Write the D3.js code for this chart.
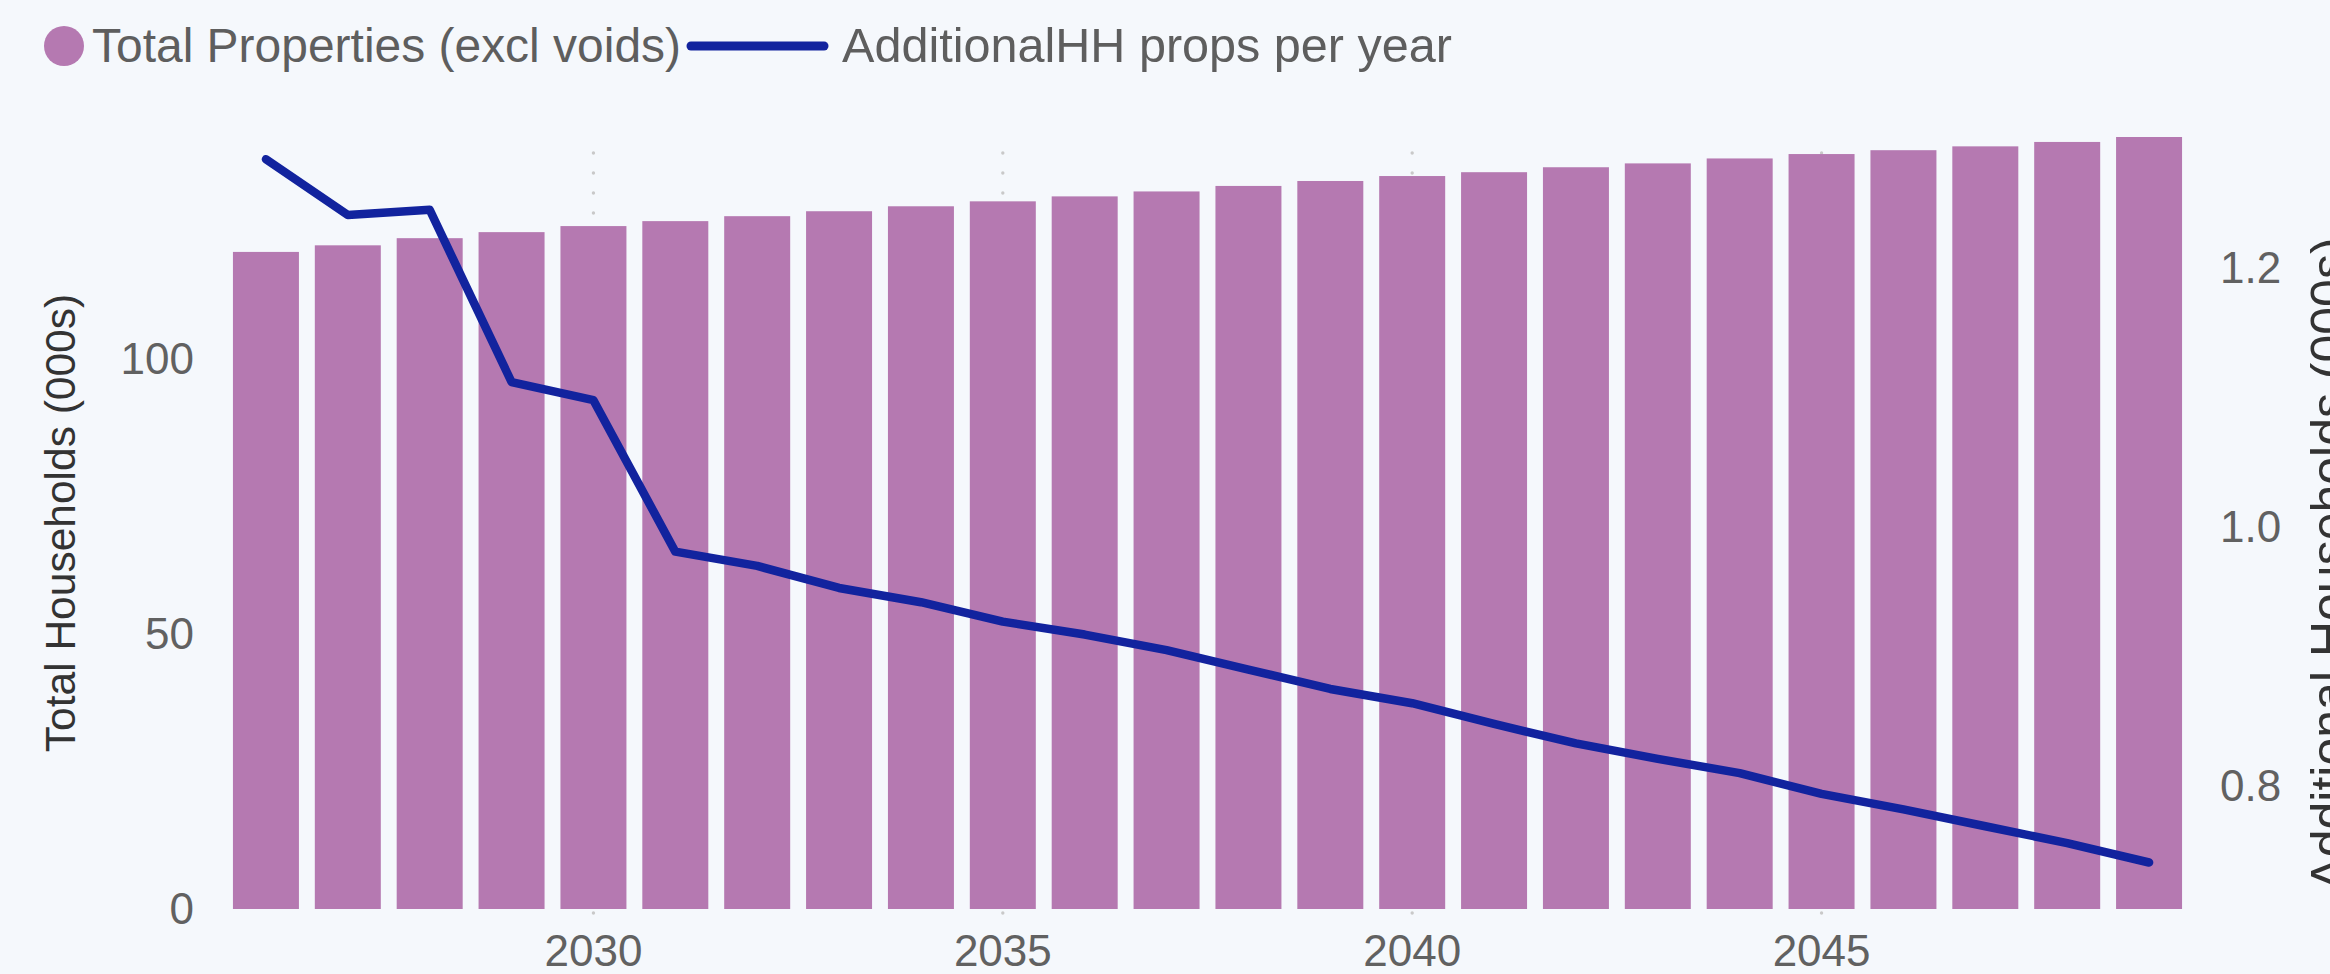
<!DOCTYPE html>
<html>
<head>
<meta charset="utf-8">
<script src="https://cdn.jsdelivr.net/npm/d3@7"></script>
<style>
  html, body { margin: 0; padding: 0; background: #f5f8fc; }
  svg { display: block; }
</style>
</head>
<body>
<svg id="chart" width="2330" height="974"></svg>
<script>
// ---- data ----
const years = [2026, 2027, 2028, 2029, 2030, 2031, 2032, 2033, 2034, 2035, 2036, 2037,
               2038, 2039, 2040, 2041, 2042, 2043, 2044, 2045, 2046, 2047, 2048, 2049];
const totalProperties = [119.5, 120.7, 122.0, 123.1, 124.2, 125.1, 126.0, 126.9, 127.8, 128.7, 129.6, 130.5,
                         131.5, 132.4, 133.3, 134.0, 134.9, 135.6, 136.5, 137.3, 138.0, 138.7, 139.5, 140.4];
const additionalHH = [1.284, 1.241, 1.245, 1.112, 1.098, 0.981, 0.970, 0.953, 0.942, 0.927, 0.917, 0.905,
                      0.890, 0.875, 0.864, 0.848, 0.833, 0.821, 0.810, 0.794, 0.782, 0.769, 0.756, 0.741];
const xTickValues = [2030, 2035, 2040, 2045];
const leftTickValues = [0, 50, 100];
const rightTickValues = [0.8, 1.0, 1.2];
const seriesNames = ["Total Properties (excl voids)", "AdditionalHH props per year"];
const axisTitles = ["Total Households (000s)", "Additional Households (000s)"];

// ---- layout ----
const plot = { left: 225, right: 2190, top: 137, bottom: 909 };
const barColor = "#b579b1";
const lineColor = "#12239e";
const tickColor = "#616161";
const titleColor = "#333333";
const legendColor = "#5e5e5e";
const font = "'Liberation Sans', Arial, sans-serif";

const svg = d3.select("#chart");

const x = d3.scaleBand().domain(years).range([plot.left, plot.right])
  .paddingInner(0.194).paddingOuter(0.097);
const yL = d3.scaleLinear().domain([0, 140.4]).range([plot.bottom, plot.top]);
const yR = d3.scaleLinear().domain([0.7051, 1.3012]).range([plot.bottom, plot.top]);
const cx = d => x(d) + x.bandwidth() / 2;

// gridlines (dotted, vertical, at x ticks)
svg.append("g").selectAll("line").data(xTickValues).join("line")
  .attr("x1", cx).attr("x2", cx)
  .attr("y1", plot.bottom + 4).attr("y2", plot.top)
  .attr("stroke", "#c9c9c9").attr("stroke-width", 3.4)
  .attr("stroke-linecap", "round").attr("stroke-dasharray", "0 20");

// bars
svg.append("g").selectAll("rect").data(years).join("rect")
  .attr("x", d => x(d))
  .attr("width", x.bandwidth())
  .attr("y", (d, i) => yL(totalProperties[i]))
  .attr("height", (d, i) => yL(0) - yL(totalProperties[i]))
  .attr("fill", barColor);

// line
const line = d3.line().x((d, i) => cx(years[i])).y(d => yR(d));
svg.append("path").datum(additionalHH)
  .attr("d", line)
  .attr("fill", "none").attr("stroke", lineColor).attr("stroke-width", 8.5)
  .attr("stroke-linejoin", "round").attr("stroke-linecap", "round");

// axes
function styleAxis(g) {
  g.select(".domain").remove();
  g.selectAll(".tick line").remove();
  g.selectAll("text").attr("font-family", font).attr("font-size", 44).attr("fill", tickColor);
}
svg.append("g").attr("transform", `translate(0,${plot.bottom})`)
  .call(d3.axisBottom(x).tickValues(xTickValues).tickSize(0).tickPadding(26))
  .call(styleAxis);
svg.append("g").attr("transform", `translate(${plot.left},0)`)
  .call(d3.axisLeft(yL).tickValues(leftTickValues).tickSize(0).tickPadding(31))
  .call(styleAxis);
svg.append("g").attr("transform", `translate(${plot.right},0)`)
  .call(d3.axisRight(yR).tickValues(rightTickValues).tickFormat(d3.format(".1f")).tickSize(0).tickPadding(30))
  .call(styleAxis);

// axis titles
const midY = (plot.top + plot.bottom) / 2;
svg.append("text")
  .attr("transform", `translate(75,${midY}) rotate(-90)`)
  .attr("text-anchor", "middle")
  .attr("font-family", font).attr("font-size", 42.5).attr("fill", titleColor)
  .text(axisTitles[0]);
svg.append("text")
  .attr("transform", `translate(2346,564) rotate(-90)`)
  .attr("text-anchor", "middle")
  .attr("font-family", font).attr("font-size", 50).attr("fill", titleColor)
  .text(axisTitles[1]);

// legend
const lg = svg.append("g");
lg.append("circle").attr("cx", 64).attr("cy", 46).attr("r", 20).attr("fill", barColor);
lg.append("text").attr("x", 92).attr("y", 62)
  .attr("font-family", font).attr("font-size", 48).attr("fill", legendColor)
  .attr("textLength", 589).attr("lengthAdjust", "spacingAndGlyphs")
  .text(seriesNames[0]);
lg.append("line").attr("x1", 691).attr("x2", 824)
  .attr("y1", 46).attr("y2", 46)
  .attr("stroke", lineColor).attr("stroke-width", 9).attr("stroke-linecap", "round");
lg.append("text").attr("x", 842).attr("y", 62)
  .attr("font-family", font).attr("font-size", 48).attr("fill", legendColor)
  .attr("textLength", 610).attr("lengthAdjust", "spacingAndGlyphs")
  .text(seriesNames[1]);
</script>
</body>
</html>
